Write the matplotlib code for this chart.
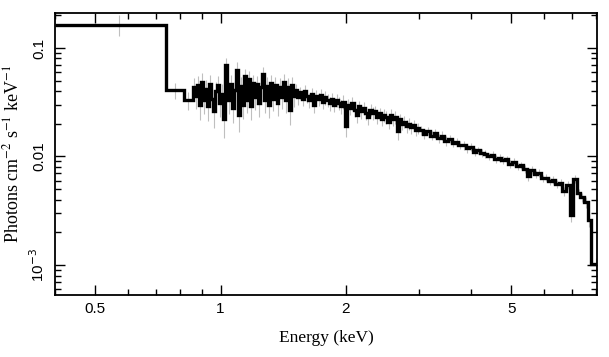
import numpy as np
import matplotlib
matplotlib.use("Agg")
import matplotlib.pyplot as plt
from matplotlib.ticker import FixedLocator, NullFormatter, LogLocator

# bin edges (keV) -- lower edges per segment, plus the last upper edge
edges_soft = [0.40, 0.74, 0.815]
edges_dense = [0.857, 0.867, 0.877, 0.887, 0.897, 0.907, 0.917, 0.928, 0.938,
               0.949, 0.960, 0.971, 0.982, 0.993, 1.004, 1.016, 1.027, 1.039,
               1.051, 1.063, 1.075, 1.087, 1.099, 1.112, 1.124, 1.137, 1.150,
               1.163, 1.176, 1.190, 1.203, 1.217, 1.231, 1.245, 1.259, 1.273,
               1.288, 1.302, 1.317, 1.332, 1.347, 1.363, 1.378, 1.394, 1.410,
               1.426, 1.442, 1.458, 1.475, 1.491]
edges_mid = [1.508, 1.527, 1.546, 1.566, 1.585, 1.605, 1.625, 1.646, 1.667,
             1.688, 1.709, 1.730, 1.752, 1.774, 1.797, 1.819, 1.842, 1.865,
             1.889, 1.912, 1.937, 1.961, 1.986, 2.011, 2.036, 2.062, 2.088,
             2.114, 2.140, 2.167, 2.195, 2.222, 2.250, 2.279, 2.307, 2.337,
             2.366, 2.396, 2.426, 2.457, 2.488, 2.519, 2.551, 2.583, 2.616,
             2.649, 2.682, 2.716, 2.750, 2.785, 2.820, 2.856, 2.892, 2.928,
             2.965]
edges_hard = [3.00, 3.06, 3.12, 3.18, 3.25, 3.31, 3.38, 3.45, 3.52, 3.59,
              3.66, 3.73, 3.81, 3.88, 3.96, 4.04, 4.12, 4.20, 4.29, 4.37,
              4.46, 4.55, 4.64, 4.73, 4.83, 4.92, 5.02, 5.12, 5.23, 5.33,
              5.44, 5.55, 5.66, 5.77, 5.89, 6.00, 6.12, 6.25, 6.37, 6.50,
              6.63, 6.76, 6.90, 7.04, 7.18, 7.32, 7.47, 7.62, 7.75]
edge_last = 8.20

# photons cm^-2 s^-1 keV^-1
flux_soft = [0.164, 0.041, 0.033]
flux_dense = [0.044, 0.036, 0.046, 0.030, 0.049, 0.033, 0.042, 0.029, 0.047,
              0.034, 0.026, 0.040, 0.046, 0.031, 0.038, 0.022, 0.070, 0.033,
              0.047, 0.028, 0.041, 0.063, 0.024, 0.045, 0.030, 0.055, 0.033,
              0.052, 0.029, 0.048, 0.035, 0.047, 0.031, 0.044, 0.057, 0.033,
              0.045, 0.030, 0.048, 0.034, 0.046, 0.031, 0.044, 0.035, 0.049,
              0.033, 0.044, 0.027, 0.046, 0.036]
flux_mid = [0.041, 0.035, 0.039, 0.034, 0.040, 0.036, 0.033, 0.038, 0.030,
            0.036, 0.034, 0.037, 0.032, 0.035, 0.033, 0.031, 0.034, 0.030,
            0.033, 0.031, 0.029, 0.032, 0.019, 0.030, 0.028, 0.031, 0.027,
            0.024, 0.029, 0.026, 0.028, 0.025, 0.023, 0.027, 0.025, 0.026,
            0.023, 0.025, 0.022, 0.024, 0.023, 0.021, 0.024, 0.022, 0.023,
            0.017, 0.022, 0.020, 0.021, 0.019, 0.020, 0.0185, 0.0195, 0.0175,
            0.0182]
flux_hard = [0.0175, 0.0162, 0.0172, 0.0156, 0.0163, 0.0147, 0.0156, 0.0140,
             0.0145, 0.0133, 0.0137, 0.0128, 0.0127, 0.0119, 0.0123, 0.0111,
             0.0114, 0.0108, 0.0106, 0.0100, 0.0104, 0.0095, 0.0097, 0.0093,
             0.0094, 0.0086, 0.0089, 0.0081, 0.0083, 0.0077, 0.0066, 0.0075,
             0.0069, 0.0071, 0.0063, 0.0064, 0.0059, 0.0061, 0.0056, 0.0057,
             0.0048, 0.0055, 0.0029, 0.0062, 0.0046, 0.0042, 0.0038, 0.0026,
             0.00102]

# fractional 1-sigma errors
rel_soft = [0.22, 0.17, 0.18]
rel_dense = [0.20, 0.24, 0.20, 0.27, 0.19, 0.25, 0.21, 0.27, 0.19, 0.24,
             0.30, 0.22, 0.19, 0.26, 0.22, 0.32, 0.16, 0.25, 0.19, 0.28,
             0.21, 0.17, 0.30, 0.19, 0.26, 0.17, 0.24, 0.17, 0.26, 0.18,
             0.23, 0.18, 0.25, 0.19, 0.16, 0.24, 0.19, 0.25, 0.18, 0.23,
             0.18, 0.24, 0.19, 0.22, 0.17, 0.23, 0.19, 0.27, 0.18, 0.21]
rel_mid = [0.13, 0.15, 0.13, 0.15, 0.13, 0.14, 0.15, 0.13, 0.16, 0.14,
           0.14, 0.13, 0.15, 0.14, 0.14, 0.15, 0.14, 0.15, 0.14, 0.14,
           0.15, 0.14, 0.20, 0.14, 0.14, 0.13, 0.14, 0.16, 0.13, 0.14,
           0.13, 0.14, 0.15, 0.13, 0.14, 0.13, 0.14, 0.13, 0.14, 0.13,
           0.13, 0.14, 0.13, 0.13, 0.13, 0.16, 0.13, 0.13, 0.12, 0.13,
           0.12, 0.12, 0.12, 0.12, 0.12]
rel_hard = [0.10, 0.10, 0.09, 0.10, 0.09, 0.10, 0.09, 0.10, 0.09, 0.09,
            0.09, 0.09, 0.09, 0.09, 0.08, 0.09, 0.08, 0.08, 0.08, 0.08,
            0.08, 0.08, 0.08, 0.08, 0.08, 0.08, 0.08, 0.08, 0.08, 0.08,
            0.10, 0.08, 0.08, 0.08, 0.08, 0.08, 0.08, 0.08, 0.08, 0.08,
            0.10, 0.09, 0.14, 0.09, 0.10, 0.10, 0.11, 0.14, 0.15]

edges = np.array(edges_soft + edges_dense + edges_mid + edges_hard + [edge_last])
flux = np.array(flux_soft + flux_dense + flux_mid + flux_hard)
rel = np.array(rel_soft + rel_dense + rel_mid + rel_hard)
err = flux * rel
centers = 0.5 * (edges[:-1] + edges[1:])

fig = plt.figure(figsize=(6.09, 3.57), dpi=100)
ax = fig.add_axes([0.0903, 0.1737, 0.8907, 0.79])

ax.errorbar(centers, flux, yerr=err, fmt="none", ecolor="0.75", elinewidth=0.8, zorder=1)
ax.stairs(flux, edges, baseline=None, color="k", lw=2.4, zorder=2)

ax.set_xscale("log")
ax.set_yscale("log")
ax.set_xlim(0.4, 8.05)
ax.set_ylim(5.3e-4, 0.21)

ax.xaxis.set_major_locator(FixedLocator([0.5, 1, 2, 5]))
ax.set_xticklabels(["0.5", "1", "2", "5"], family="Liberation Sans", fontsize=11)
ax.xaxis.set_minor_locator(FixedLocator([0.4, 0.6, 0.7, 0.8, 0.9, 3, 4, 6, 7, 8]))
ax.xaxis.set_minor_formatter(NullFormatter())

ax.yaxis.set_major_locator(FixedLocator([1e-3, 1e-2, 1e-1]))
ax.set_yticklabels(["10$^{-3}$", "0.01", "0.1"], family="Liberation Sans",
                   fontsize=11, rotation=90, va="center")
ax.yaxis.set_minor_locator(LogLocator(base=10, subs=np.arange(2, 10), numticks=20))
ax.yaxis.set_minor_formatter(NullFormatter())

ax.tick_params(which="both", direction="in", top=True, right=True, width=1.0)
ax.tick_params(which="major", length=7)
ax.tick_params(which="minor", length=4)
ax.tick_params(axis="x", pad=5)
ax.tick_params(axis="y", pad=6)
for s in ax.spines.values():
    s.set_linewidth(1.3)

ax.set_xlabel("Energy (keV)", family="Liberation Serif", fontsize=12.5, labelpad=10)
ax.set_ylabel("Photons cm$^{-2}$ s$^{-1}$ keV$^{-1}$", family="Liberation Serif",
              math_fontfamily="stix", fontsize=13, labelpad=4)

fig.savefig("out.png", dpi=100)
